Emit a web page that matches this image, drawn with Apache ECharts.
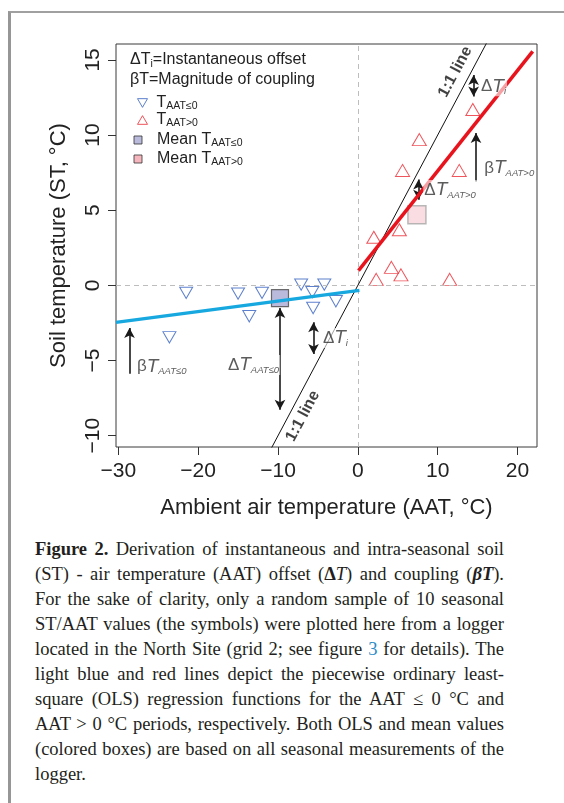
<!DOCTYPE html>
<html>
<head>
<meta charset="utf-8">
<title>Soil vs air temperature offset and coupling</title>
<script src="https://cdn.jsdelivr.net/npm/echarts@6/dist/echarts.min.js"></script>
<style>
  html, body { margin: 0; padding: 0; width: 564px; height: 803px; overflow: hidden; background: #fff; }
  .frame { position: absolute; left: 8px; top: 11px; width: 620px; height: 860px;
           border-left: 3px solid #969696; border-top: 2px solid #a0a0a0; }
  #chart { position: absolute; left: 0; top: 0; width: 564px; height: 530px; }
  .caption { position: absolute; left: 35px; top: 537px; width: 469px;
             font-family: 'Liberation Serif', 'Times New Roman', serif;
             font-size: 18.5px; line-height: 25px; color: #231f20; }
  .caption div { text-align: justify; text-align-last: justify; }
  .caption div.last { text-align-last: left; }
  .caption .ref { color: #2a8cc6; }
</style>
</head>
<body>
<div class="frame"></div>
<div id="chart"></div>
<div class="caption">
  <div><b>Figure 2.</b> Derivation of instantaneous and intra-seasonal soil</div>
  <div>(ST) - air temperature (AAT) offset (<b>Δ</b><i>T</i>) and coupling (<b><i>βT</i></b>).</div>
  <div>For the sake of clarity, only a random sample of 10 seasonal</div>
  <div>ST/AAT values (the symbols) were plotted here from a logger</div>
  <div>located in the North Site (grid 2; see figure <span class="ref">3</span> for details). The</div>
  <div>light blue and red lines depict the piecewise ordinary least-</div>
  <div>square (OLS) regression functions for the AAT ≤ 0 °C and</div>
  <div>AAT &gt; 0 °C periods, respectively. Both OLS and mean values</div>
  <div>(colored boxes) are based on all seasonal measurements of the</div>
  <div class="last">logger.</div>
</div>
<script>
// random sample, AAT <= 0 (blue)
const coldAAT = [-21.5, -23.6, -15.0, -13.6, -12.0, -7.1, -5.7, -5.6, -4.2, -2.75];
const coldST = [-0.5, -3.45, -0.55, -2.05, -0.5, 0.05, -0.45, -1.5, 0.05, -1.05];
// random sample, AAT > 0 (red)
const warmAAT = [14.4, 7.7, 5.6, 12.7, 5.2, 2.0, 4.2, 5.4, 2.3, 11.5];
const warmST = [11.7, 9.7, 7.65, 7.65, 3.7, 3.2, 1.2, 0.7, 0.4, 0.4];
// seasonal means [cold, warm]
const meanAAT = [-9.75, 7.4];
const meanST = [-0.85, 4.7];
// OLS fits, end points
const coldFitAAT = [-30.3, 0.2];
const coldFitST = [-2.46, -0.33];
const warmFitAAT = [0.08, 21.9];
const warmFitST = [0.98, 15.57];
// 1:1 line
const oneToOne = [-12, 17];
// arrows (vertical)
const arrowAAT = [14.5, 14.8, 7.6, -28.6, -9.75, -5.55];
const arrowFrom = [14.0, 6.92, 7.05, -5.87, -1.5, -2.45];
const arrowTo = [12.57, 10.14, 5.7, -2.83, -8.27, -4.57];
const arrowTwoHeads = [true, false, true, false, true, true];
// arrow annotations
const noteGlyph = ['Δ', 'β', 'Δ', 'β', 'Δ', 'Δ'];
const noteSub = ['i', 'AAT>0', 'AAT>0', 'AAT≤0', 'AAT≤0', 'i'];
const noteAAT = [15.3, 15.7, 8.2, -27.8, -16.4, -4.5];
const noteST = [13.25, 7.8, 6.35, -5.4, -5.3, -3.5];
// "1:1 line" tags
const tagText = '1:1 line';
const tagAAT = [12.2, -6.9];
const tagST = [14.2, -8.7];
// axis ticks
const xTicks = [-30, -20, -10, 0, 10, 20];
const yTicks = [-10, -5, 0, 5, 10, 15];

const F = 'Liberation Sans, Arial, Helvetica, sans-serif';
const TXT = '#222';
const DOWN_TRI = 'path://M0,0L20,0L10,17.32Z';
const UP_TRI = 'path://M10,0L20,17.32L0,17.32Z';

const names = ['T AAT≤0', 'T AAT>0', 'Mean T AAT≤0', 'Mean T AAT>0'];

const minus = v => (v < 0 ? '\u2212' + Math.abs(v) : String(v));
const pairs = (xs, ys) => xs.map((x, i) => [x, ys[i]]);

const legendRich = pad => ({
  m: { fontSize: 16, fontFamily: F, color: TXT, lineHeight: 18, padding: [0, 0, 0, pad] },
  s: { fontSize: 10.5, fontFamily: F, color: TXT, lineHeight: 10, verticalAlign: 'bottom' }
});
const legendFmt = name => {
  const k = name.lastIndexOf(' ');
  return '{m|' + name.slice(0, k) + '}{s|' + name.slice(k + 1) + '}';
};
const legendItems = [
  { icon: DOWN_TRI, w: 10, h: 9, left: 137, top: 95, pad: 4,
    style: { color: 'rgba(0,0,0,0)', borderColor: '#3560c0', borderWidth: 1 } },
  { icon: UP_TRI, w: 10, h: 9, left: 137, top: 112, pad: 4,
    style: { color: 'rgba(0,0,0,0)', borderColor: '#ea2a33', borderWidth: 1 } },
  { icon: 'rect', w: 8, h: 8, left: 133.5, top: 132, pad: 10,
    style: { color: '#a9a9d5', borderColor: '#333', borderWidth: 1 } },
  { icon: 'rect', w: 8, h: 8, left: 133.5, top: 151, pad: 10,
    style: { color: '#f3a5ad', borderColor: '#333', borderWidth: 1 } }
];

const noteRich = {
  g: { fontSize: 17, fontFamily: F, color: '#333', lineHeight: 20 },
  t: { fontSize: 19, fontFamily: F, fontStyle: 'italic', color: '#333', lineHeight: 20 },
  s: { fontSize: 9.5, fontFamily: F, fontStyle: 'italic', color: '#333', lineHeight: 9, verticalAlign: 'bottom' }
};

const chart = echarts.init(document.getElementById('chart'), null, { renderer: 'canvas' });

const option = {
  animation: false,
  backgroundColor: 'transparent',
  title: {
    left: 130, top: 50, padding: 0,
    text: 'ΔT{s|i}=Instantaneous offset\nβT=Magnitude of coupling',
    textStyle: {
      fontSize: 16, fontWeight: 'normal', color: TXT, fontFamily: F, lineHeight: 20,
      rich: { s: { fontSize: 10.5, fontFamily: F, color: TXT, lineHeight: 10, verticalAlign: 'bottom' } }
    }
  },
  legend: legendItems.map((it, i) => ({
    left: it.left, top: it.top, padding: 0, itemGap: 0,
    itemWidth: it.w, itemHeight: it.h,
    selectedMode: false,
    formatter: legendFmt,
    textStyle: { rich: legendRich(it.pad) },
    data: [{ name: names[i], icon: it.icon, itemStyle: it.style }]
  })),
  grid: {
    show: true, left: 116, top: 44, width: 421, height: 403,
    borderColor: '#3a3a3a', borderWidth: 1, backgroundColor: 'transparent'
  },
  xAxis: {
    type: 'value', min: -30.29, max: 22.44,
    splitLine: { show: false },
    axisLine: { show: false, onZero: false },
    axisTick: { show: true, length: 8, lineStyle: { color: '#333' }, customValues: xTicks },
    axisLabel: { fontSize: 21, color: TXT, fontFamily: F, margin: 14, customValues: xTicks, formatter: minus },
    name: 'Ambient air temperature (AAT, °C)',
    nameLocation: 'middle', nameGap: 50,
    nameTextStyle: { fontSize: 22, color: TXT, fontFamily: F }
  },
  yAxis: {
    type: 'value', min: -10.75, max: 16.06,
    splitLine: { show: false },
    axisLine: { show: false, onZero: false },
    axisTick: { show: true, length: 8, lineStyle: { color: '#333' }, customValues: yTicks },
    axisLabel: { fontSize: 21, color: TXT, fontFamily: F, margin: 12, rotate: 90, customValues: yTicks, formatter: minus },
    name: 'Soil temperature (ST, °C)',
    nameLocation: 'middle', nameGap: 46,
    nameTextStyle: { fontSize: 22, color: TXT, fontFamily: F }
  },
  series: [
    {
      // dashed zero lines
      type: 'line', data: [], z: 1, silent: true,
      markLine: {
        silent: true, symbol: ['none', 'none'], label: { show: false },
        lineStyle: { color: '#bdbdbd', width: 1, type: [5, 4] },
        emphasis: { disabled: true },
        data: [{ xAxis: 0 }, { yAxis: 0 }]
      }
    },
    {
      name: names[0], type: 'scatter', z: 3,
      symbol: DOWN_TRI, symbolSize: [13, 11.3],
      itemStyle: { color: 'rgba(0,0,0,0)', borderColor: '#3560c0', borderWidth: 1 },
      data: pairs(coldAAT, coldST)
    },
    {
      name: names[1], type: 'scatter', z: 3,
      symbol: UP_TRI, symbolSize: [14, 12],
      itemStyle: { color: 'rgba(0,0,0,0)', borderColor: '#ea2a33', borderWidth: 1 },
      data: pairs(warmAAT, warmST)
    },
    {
      name: names[2], type: 'scatter', z: 4,
      symbol: 'rect', symbolSize: 17,
      itemStyle: { color: '#a9a9d5', borderColor: '#4a4a4a', borderWidth: 1.2 },
      data: [[meanAAT[0], meanST[0]]]
    },
    {
      name: names[3], type: 'scatter', z: 4,
      symbol: 'rect', symbolSize: 18,
      itemStyle: { color: '#f7d5db', borderColor: '#a8a8a8', borderWidth: 1.5 },
      data: [[meanAAT[1], meanST[1]]]
    },
    {
      name: '1:1', type: 'line', z: 5, clip: true, symbol: 'none', silent: true,
      lineStyle: { color: '#111', width: 1 },
      data: pairs(oneToOne, oneToOne)
    },
    {
      name: 'OLS AAT≤0', type: 'line', z: 6, clip: true, symbol: 'none', silent: true,
      lineStyle: { color: '#17a8e0', width: 3.5 },
      data: pairs(coldFitAAT, coldFitST)
    },
    {
      name: 'OLS AAT>0', type: 'line', z: 6, clip: true, symbol: 'none', silent: true,
      lineStyle: { color: '#e8141d', width: 3.5 },
      data: pairs(warmFitAAT, warmFitST)
    },
    {
      name: 'notes', type: 'scatter', z: 7, silent: true,
      symbolSize: 1, itemStyle: { color: 'rgba(0,0,0,0)' },
      label: {
        show: true, position: 'inside', align: 'left', verticalAlign: 'middle',
        backgroundColor: 'rgba(255,255,255,0.75)', padding: [0, 1],
        formatter: p => '{g|' + noteGlyph[p.dataIndex] + '}{t|T}{s|' + noteSub[p.dataIndex] + '}',
        rich: noteRich
      },
      data: pairs(noteAAT, noteST),
      markLine: {
        silent: true, symbol: ['arrow', 'arrow'], symbolSize: [8, 10],
        label: { show: false }, emphasis: { disabled: true },
        lineStyle: { color: '#1a1a1a', width: 1.6, type: 'solid' },
        data: arrowAAT.map((x, i) => [
          { coord: [x, arrowFrom[i]], symbol: arrowTwoHeads[i] ? 'arrow' : 'none' },
          { coord: [x, arrowTo[i]], symbol: 'arrow' }
        ])
      }
    },
    {
      name: 'tags', type: 'scatter', z: 7, silent: true,
      symbolSize: 1, itemStyle: { color: 'rgba(0,0,0,0)' },
      label: {
        show: true, position: 'inside', rotate: 62,
        fontSize: 16, fontWeight: 'bold', color: '#111', fontFamily: F,
        formatter: () => tagText
      },
      data: pairs(tagAAT, tagST)
    }
  ]
};

chart.setOption(option);
</script>
</body>
</html>
